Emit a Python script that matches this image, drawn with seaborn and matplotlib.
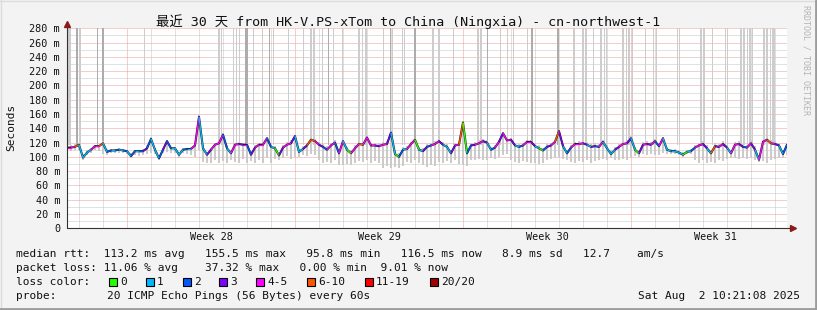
import matplotlib
matplotlib.use('Agg')
import matplotlib.pyplot as plt
import seaborn as sns
from matplotlib.patches import Rectangle
from matplotlib.lines import Line2D
from matplotlib.collections import LineCollection
from matplotlib.ticker import FixedLocator

sns.set_theme(style='white')
plt.rcParams['font.family'] = ['DejaVu Sans Mono', 'Noto Sans CJK SC']

# ---------------- data ----------------
hours = list(range(0, 721, 4))  # hours since start of 30-day window

median_ms = [
    113, 113, 114, 117, 99, 106, 110, 115, 115, 119,
    107, 109, 109, 110, 109, 108, 101, 108, 108, 108,
    112, 125, 110, 98, 110, 122, 112, 112, 103, 110,
    111, 111, 116, 156, 112, 103, 110, 117, 119, 131,
    112, 105, 117, 118, 117, 117, 103, 113, 117, 117,
    126, 114, 112, 102, 113, 117, 119, 129, 107, 111,
    116, 124, 122, 117, 114, 110, 116, 120, 105, 122,
    110, 105, 112, 118, 117, 127, 116, 116, 115, 117,
    118, 134, 104, 100, 110, 111, 118, 124, 110, 108,
    114, 116, 118, 122, 117, 114, 105, 116, 117, 148,
    105, 116, 117, 119, 122, 120, 110, 113, 121, 133,
    123, 124, 116, 114, 116, 121, 121, 115, 112, 109,
    114, 116, 121, 136, 115, 105, 113, 118, 118, 119,
    117, 114, 115, 114, 121, 112, 104, 110, 114, 118,
    119, 126, 110, 105, 117, 118, 117, 122, 115, 126,
    110, 108, 108, 106, 103, 107, 108, 113, 116, 118,
    112, 105, 115, 114, 118, 113, 105, 117, 118, 114,
    113, 119, 110, 96, 121, 124, 119, 118, 116, 104,
    117,
]

loss_code = [
    3, 4, 4, 5, 1, 1, 1, 4, 4, 5,
    1, 2, 1, 2, 1, 2, 1, 2, 1, 2,
    3, 2, 1, 1, 2, 3, 2, 1, 1, 1,
    2, 1, 4, 4, 1, 1, 3, 4, 4, 4,
    2, 1, 4, 4, 3, 4, 2, 3, 4, 4,
    4, 2, 1, 0, 3, 4, 4, 3, 1, 1,
    3, 5, 5, 4, 3, 2, 4, 4, 2, 4,
    1, 0, 4, 4, 5, 4, 4, 4, 3, 4,
    4, 3, 1, 0, 2, 1, 4, 4, 0, 1,
    3, 2, 4, 4, 3, 1, 1, 3, 4, 5,
    0, 2, 3, 4, 4, 3, 1, 2, 4, 3,
    4, 4, 3, 1, 2, 4, 4, 3, 1, 0,
    2, 3, 4, 5, 3, 1, 2, 4, 4, 4,
    3, 1, 3, 2, 4, 1, 1, 1, 3, 4,
    4, 3, 1, 0, 3, 4, 3, 4, 2, 4,
    1, 1, 1, 1, 1, 0, 1, 2, 4, 4,
    3, 1, 5, 3, 4, 3, 1, 4, 4, 3,
    2, 4, 3, 1, 4, 4, 5, 4, 3, 1,
    2,
]

smoke_lo = [
    108, 108, 109, 110, 96, 103, 106, 110, 108, 104,
    103, 105, 105, 106, 105, 104, 98, 103, 101, 102,
    104, 106, 104, 95, 105, 107, 106, 106, 99, 105,
    104, 103, 100, 110, 93, 91, 92, 95, 91, 94,
    91, 96, 93, 91, 97, 92, 94, 91, 96, 92,
    98, 92, 97, 96, 99, 101, 97, 100, 100, 103,
    101, 104, 103, 96, 91, 93, 92, 95, 89, 88,
    90, 88, 92, 94, 93, 95, 92, 94, 91, 85,
    87, 84, 86, 84, 87, 93, 92, 95, 91, 88,
    86, 88, 87, 93, 92, 94, 92, 95, 90, 88,
    87, 96, 95, 97, 96, 95, 98, 97, 100, 103,
    104, 95, 93, 92, 94, 93, 91, 92, 90, 91,
    96, 97, 98, 100, 97, 95, 93, 92, 94, 93,
    95, 92, 94, 96, 97, 95, 98, 96, 95, 97,
    96, 100, 101, 100, 104, 102, 104, 103, 102, 105,
    104, 104, 104, 103, 100, 104, 104, 96, 92, 95,
    91, 93, 92, 96, 94, 97, 98, 99, 97, 98,
    97, 99, 96, 93, 94, 92, 96, 97, 98, 99,
    103,
]

smoke_hi = [
    116, 116, 118, 120, 104, 109, 112, 117, 117, 122,
    111, 111, 111, 112, 111, 110, 105, 110, 110, 111,
    116, 128, 113, 103, 113, 124, 114, 114, 106, 112,
    113, 114, 119, 158, 116, 107, 113, 120, 123, 133,
    116, 109, 120, 121, 120, 120, 108, 117, 120, 121,
    128, 117, 115, 106, 116, 121, 123, 131, 111, 115,
    120, 127, 125, 121, 118, 115, 120, 123, 110, 124,
    114, 109, 116, 121, 121, 129, 120, 120, 119, 121,
    122, 136, 109, 105, 114, 115, 121, 127, 114, 112,
    118, 120, 122, 125, 121, 118, 110, 120, 121, 150,
    110, 120, 121, 123, 125, 124, 114, 117, 124, 135,
    126, 127, 120, 118, 120, 124, 124, 119, 116, 113,
    118, 120, 124, 138, 119, 110, 117, 121, 122, 123,
    121, 118, 119, 118, 124, 116, 109, 114, 118, 122,
    123, 129, 114, 109, 121, 122, 121, 125, 119, 128,
    113, 111, 111, 109, 107, 110, 111, 116, 120, 122,
    117, 110, 119, 118, 122, 117, 110, 121, 122, 118,
    117, 123, 115, 102, 124, 127, 123, 122, 120, 109,
    120,
]

# off-scale (timeout / lost ping) smoke columns, in hours
spike_start = [1.3, 9, 11.5, 30, 35, 77, 151, 154, 166, 168.5, 172, 178, 186,
               195, 202, 206, 221, 236, 243, 246, 255, 261, 266, 275, 291, 294.5,
               297.5, 316, 323, 325, 335, 337, 347, 365, 371, 386, 410, 413, 420,
               433, 440, 446, 460, 464, 490, 506, 515, 518, 526, 533, 536.5, 539,
               555, 558.5, 561, 564.5, 578, 586, 588.5, 610, 612, 633, 636, 645,
               658, 660, 673, 676, 679.5, 682, 685, 696, 699, 702.5, 705]
spike_end = [3.7, 10.5, 14, 30.8, 36.5, 78, 152.5, 155, 167, 170, 173, 181, 187,
             196, 203, 207, 222, 237, 244.5, 248, 256, 262, 267, 276, 293, 296,
             300, 317, 324, 326, 336, 338, 349, 366.5, 373, 387, 411.5, 415, 421,
             434, 441, 447, 461, 466, 492, 508, 516.5, 520, 527, 535, 538, 540,
             557, 560, 563, 566, 579, 587, 590, 611, 613, 634.5, 638, 646,
             659, 661, 675, 678, 681, 684, 686, 698, 701, 704, 708]
spike_dark = [0, 1, 0, 1, 1, 0, 0, 0, 0, 0, 0, 1, 0,
              0, 1, 0, 0, 0, 0, 0, 0, 1, 0, 0, 0, 0,
              0, 0, 1, 0, 0, 0, 1, 0, 0, 0, 0, 0, 1,
              0, 0, 0, 0, 1, 1, 0, 0, 0, 0, 0, 0, 0,
              0, 0, 0, 0, 0, 0, 0, 0, 0, 0, 0, 0,
              0, 0, 0, 0, 0, 0, 0, 0, 0, 0, 0]
spike_base = 116

loss_labels = ['0', '1', '2', '3', '4-5', '6-10', '11-19', '20/20']
loss_colors = ['#26ff00', '#00b8ff', '#0059ff', '#7e00ff', '#ff00ff',
               '#ff5500', '#ff0000', '#a10000']

week_labels = ['Week 28', 'Week 29', 'Week 30', 'Week 31']
week_start = [60, 228, 396, 564]
day_lines = list(range(12, 721, 24))
y_major = list(range(0, 281, 20))
y_minor = list(range(0, 281, 10))

title = '最近 30 天 from HK-V.PS-xTom to China (Ningxia) - cn-northwest-1'
line_rtt = ('median rtt:  113.2 ms avg   155.5 ms max   95.8 ms min   '
            '116.5 ms now   8.9 ms sd   12.7    am/s')
line_loss = 'packet loss: 11.06 % avg    37.32 % max   0.00 % min  9.01 % now'
loss_square_x = [109, 146, 183, 219, 256, 307, 365, 430]
probe_text = '20 ICMP Echo Pings (56 Bytes) every 60s'
date_text = 'Sat Aug  2 10:21:08 2025'

# ---------------- figure ----------------
W, H = 817, 310
fig = plt.figure(figsize=(W / 100, H / 100), dpi=100, facecolor='#f3f3f3')
ax = fig.add_axes([67 / W, (H - 228.3) / H, 720 / W, 200 / H])
ax.set_facecolor('white')
ax.set_xlim(0, 720)
ax.set_ylim(0, 280)

# grid
ax.xaxis.set_major_locator(FixedLocator(week_start))
ax.xaxis.set_minor_locator(FixedLocator(day_lines))
ax.yaxis.set_major_locator(FixedLocator(y_major))
ax.yaxis.set_minor_locator(FixedLocator(y_minor))
ax.grid(which='minor', color='#c4c4c4', linestyle=(0, (1, 1)), linewidth=0.72, zorder=0)
ax.grid(which='major', color='#f09a9a', linestyle=(0, (1, 1)), linewidth=0.72, zorder=0)
ax.set_axisbelow(True)

ax.set_xticklabels([''] * len(week_start))
ax.set_yticklabels(['0' if v == 0 else f'{v} m' for v in y_major], fontsize=7.3,
                   color='#111111')
ax.tick_params(axis='y', which='major', length=2.2, width=0.7, color='#444444',
               direction='out', pad=2.8)
ax.tick_params(axis='y', which='minor', length=1.5, width=0.7, color='#666666',
               direction='out')
ax.tick_params(axis='x', which='major', length=2.2, width=0.7, color='#e06060',
               direction='out')
ax.tick_params(axis='x', which='minor', length=2.2, width=0.7, color='#777777',
               direction='out')
for s in ax.spines.values():
    s.set_visible(False)

# off-scale smoke columns
ax.bar(spike_start, [280 - spike_base] * len(spike_start), bottom=spike_base,
       width=[max(e - s, 1.2) for s, e in zip(spike_start, spike_end)], align='edge',
       color=['#acacac' if d else '#cdcdcd' for d in spike_dark], linewidth=0,
       zorder=1)

# smoke: thin vertical strokes per sample
ax.vlines(hours, smoke_lo, smoke_hi, colors='#cacaca', linewidth=1.4, zorder=2)

# median line (dark core + loss coloured)
sns.lineplot(x=hours, y=median_ms, color='#1a1a1a', linewidth=1.5, ax=ax,
             zorder=3, legend=False)
segs = [[(hours[i], median_ms[i]), (hours[i + 1], median_ms[i + 1])]
        for i in range(len(hours) - 1)]
cols = [loss_colors[c] for c in loss_code[1:]]
ax.add_collection(LineCollection(segs, colors=cols, linewidths=0.95, zorder=4))
ax.set_xlabel('')
ax.set_ylabel('')

# axis lines with arrows
ax.plot([0, 1.008], [0, 0], transform=ax.transAxes, color='#333333', lw=0.8,
        clip_on=False, zorder=6)
ax.plot([0, 0], [0, 1.02], transform=ax.transAxes, color='#333333', lw=0.8,
        clip_on=False, zorder=6)
ax.plot([1.008], [0], marker='>', ms=4, color='#8b1a1a', transform=ax.transAxes,
        clip_on=False, zorder=7)
ax.plot([0], [1.02], marker='^', ms=4, color='#8b1a1a', transform=ax.transAxes,
        clip_on=False, zorder=7)

# week labels
for lab, ws in zip(week_labels, week_start):
    ax.text(ws + 84, -0.0435, lab, transform=ax.get_xaxis_transform(),
            ha='center', va='center', fontsize=7.3, color='#111111')

# texts
fig.text(408 / W, 1 - 22 / H, title, ha='center', va='center', fontsize=9.6,
         color='#111111')
fig.text(11 / W, 1 - 127 / H, 'Seconds', rotation=90, ha='center', va='center',
         fontsize=8, color='#111111')
fig.text(806 / W, 1 - 5 / H, 'RRDTOOL / TOBI OETIKER', rotation=270, ha='center',
         va='top', fontsize=6, color='#b4b4b4')

def ftext(x, y, s, **kw):
    fig.text(x / W, 1 - y / H, s, va='center', fontsize=8, color='#111111', **kw)

ftext(16, 254, line_rtt)
ftext(16, 268, line_loss)
ftext(16, 282, 'loss color:')
for lab, col, x in zip(loss_labels, loss_colors, loss_square_x):
    fig.add_artist(Rectangle((x / W, 1 - 286 / H), 8 / W, 8 / H, facecolor=col,
                             edgecolor='black', linewidth=0.8,
                             transform=fig.transFigure))
    ftext(x + 11, 282, lab)
ftext(16, 296, 'probe:')
ftext(107, 296, probe_text)
ftext(800, 296, date_text, ha='right')

# 3-D frame
fig.add_artist(Line2D([0, 1], [1 - 0.5 / H, 1 - 0.5 / H], color='#dcdcdc', lw=1,
                      transform=fig.transFigure))
fig.add_artist(Line2D([0.5 / W, 0.5 / W], [0, 1], color='#dcdcdc', lw=1,
                      transform=fig.transFigure))
fig.add_artist(Line2D([0, 1], [1.5 / H, 1.5 / H], color='#9c9c9c', lw=2,
                      transform=fig.transFigure))
fig.add_artist(Line2D([1 - 1.5 / W, 1 - 1.5 / W], [0, 1], color='#9c9c9c', lw=2,
                      transform=fig.transFigure))

fig.savefig('out.png', dpi=100, facecolor=fig.get_facecolor())
